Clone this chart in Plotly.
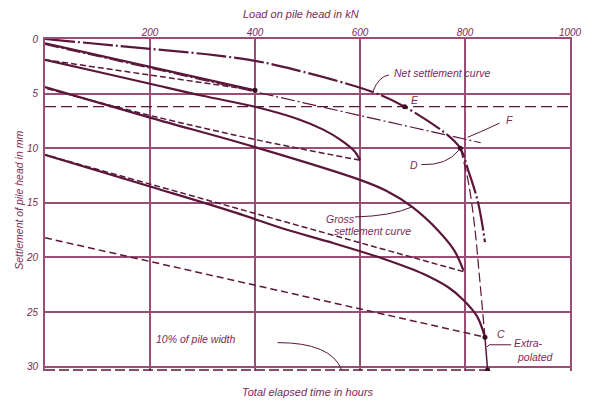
import plotly.graph_objects as go

# ---- pile load test data (load in kN, settlement in mm) ----
# cycle 1: loading to 400 kN and unloading
load_c1 = [0, 400]
sett_c1 = [0.4, 4.7]
load_u1 = [400, 200, 0]
sett_u1 = [4.7, 3.3, 1.9]

# cycle 2: reloading to 600 kN and unloading
load_c2 = [0, 100, 200, 300, 400, 480, 530, 565, 590, 600]
sett_c2 = [1.9, 3.0, 4.1, 5.2, 6.2, 7.3, 8.3, 9.3, 10.3, 11.1]
load_u2 = [600, 400, 200, 0]
sett_u2 = [11.1, 9.2, 7.0, 4.5]

# cycle 3: reloading to 800 kN and unloading
load_c3 = [0, 200, 400, 600, 650, 700, 750, 780, 797]
sett_c3 = [4.4, 7.2, 9.9, 12.9, 13.9, 15.4, 17.6, 19.4, 21.2]
load_u3 = [797, 0]
sett_u3 = [21.3, 10.6]

# cycle 4: final loading (gross settlement curve) up to C
load_c4 = [0, 200, 363, 456, 550, 643, 720, 770, 797, 823, 838]
sett_c4 = [10.6, 13.5, 15.9, 17.4, 18.7, 20.1, 21.5, 22.8, 23.9, 25.4, 27.3]

# net settlement curve
load_net = [0, 200, 326, 400, 475, 624, 685, 767, 791, 806, 825, 838]
sett_net = [0.0, 0.9, 1.5, 2.0, 2.8, 4.85, 6.2, 8.8, 10.0, 12.0, 15.0, 18.6]

# straight line towards F
load_f = [0, 830]
sett_f = [0.5, 9.5]

# curve from D down to C
load_dc = [791, 806, 818, 828, 838]
sett_dc = [10.0, 13.0, 17.0, 22.0, 27.3]

# line to C
load_10 = [0, 838]
sett_10 = [18.2, 27.3]

# extrapolation C -> B
load_cb = [838, 843]
sett_cb = [27.3, 30.3]

# horizontal reference lines
level_e = 6.2
level_b = 30.3
load_b = 843

# marked points
pt_load = [400, 685, 791, 838, 843]
pt_sett = [4.7, 6.2, 10.0, 27.3, 30.3]

INK = "#5a173b"
GRID = "#9a4d75"
TXT = "#7c2a55"
FONT = "Liberation Sans"

fig = go.Figure()


def add_line(x, y, width=2.0, dash="solid", color=INK, shape="spline"):
    fig.add_trace(go.Scatter(
        x=x, y=y, mode="lines",
        line=dict(color=color, width=width, dash=dash, shape=shape, smoothing=1.0),
        hoverinfo="skip", showlegend=False))


# loading (solid) and unloading (dashed) cycles
add_line(load_c1, sett_c1, 2.2, shape="linear")
add_line(load_u1, sett_u1, 1.5, "6px,3px")
add_line(load_c2, sett_c2, 2.2)
add_line(load_u2, sett_u2, 1.5, "6px,3px")
add_line(load_c3, sett_c3, 2.2)
add_line(load_u3, sett_u3, 1.5, "6px,3px", shape="linear")
add_line(load_c4, sett_c4, 2.2)

# net settlement curve and construction lines
add_line(load_net, sett_net, 2.2, "30px,3px,2px,3px")
add_line(load_f, sett_f, 1.2, "14px,3px,2px,3px", shape="linear")
add_line(load_dc, sett_dc, 1.2, "10px,4px")
add_line(load_10, sett_10, 1.5, "7px,4px", shape="linear")
add_line(load_cb, sett_cb, 1.5, shape="linear")
add_line([0, 1000], [level_e, level_e], 1.3, "11px,5px", shape="linear")
add_line([0, load_b], [level_b, level_b], 1.5, "10px,4px", shape="linear")

fig.add_trace(go.Scatter(
    x=pt_load, y=pt_sett, mode="markers",
    marker=dict(color="#3a0d25", size=5),
    hoverinfo="skip", showlegend=False))

# ---- leader lines ----
leaders = [
    "M 655,3.3 Q 636,3.4 624,4.85",      # net settlement curve
    "M 866,7.7 Q 840,8.3 805,9.0",       # F
    "M 717,11.5 Q 765,11.6 788,10.2",    # D
    "M 590,16.3 Q 660,16.2 698,15.4",    # gross settlement curve
    "M 443,27.8 Q 545,27.8 565,30.3",    # 10% of pile width
    "M 842,28.2 L 846,28.0 L 888,28.0",  # extrapolated
]
for p in leaders:
    fig.add_shape(type="path", path=p, xref="x", yref="y",
                  line=dict(color=INK, width=1))

# ---- labels ----
def label(x, y, text, size=10.5, xanchor="left"):
    fig.add_annotation(x=x, y=y, text=text, showarrow=False, xref="x", yref="y",
                       xanchor=xanchor, yanchor="middle",
                       font=dict(family=FONT, size=size, color=TXT, style="italic"))


label(661, 3.1, "Net settlement curve")
label(693, 5.6, "E")
label(874, 7.4, "F")
label(692, 11.5, "D")
label(532, 16.5, "Gross")
label(547, 17.6, "settlement curve")
label(208, 27.5, "10% of pile width")
label(857, 27.0, "C")
label(858, 30.7, "B")
label(889, 27.8, "Extra-")
label(896, 29.1, "polated")


def title(x, y, text, angle=0, size=11):
    fig.add_annotation(x=x, y=y, xref="paper", yref="paper", text=text,
                       textangle=angle, showarrow=False,
                       xanchor="center", yanchor="middle",
                       font=dict(family=FONT, size=size, color=TXT, style="italic"))


title(0.488, 1.075, "Load on pile head in kN")
title(0.50, -0.063, "Total elapsed time in hours")
title(-0.05, 0.515, "Settlement of pile head in mm", angle=-90, size=10.5)

fig.update_layout(
    width=594, height=402,
    margin=dict(l=45, r=12, t=39, b=31),
    paper_bgcolor="white", plot_bgcolor="white",
    font=dict(family=FONT, size=10, color=TXT, style="italic"),
    xaxis=dict(range=[0, 1000], side="top", tickvals=[0, 200, 400, 600, 800, 1000],
               ticktext=["", "200", "400", "600", "800", "1000"],
               showgrid=True, gridcolor=GRID, gridwidth=2, zeroline=False,
               showline=True, linecolor=GRID, linewidth=1.5, mirror=False,
               ticks="", ticklabelstandoff=-3),
    yaxis=dict(range=[30.4, 0], tickvals=[0, 5, 10, 15, 20, 25, 30],
               showgrid=True, gridcolor=GRID, gridwidth=1.6, zeroline=False,
               showline=True, linecolor=GRID, linewidth=2, mirror=True,
               ticks="", ticklabelstandoff=3),
)

fig.write_html("out.html")
